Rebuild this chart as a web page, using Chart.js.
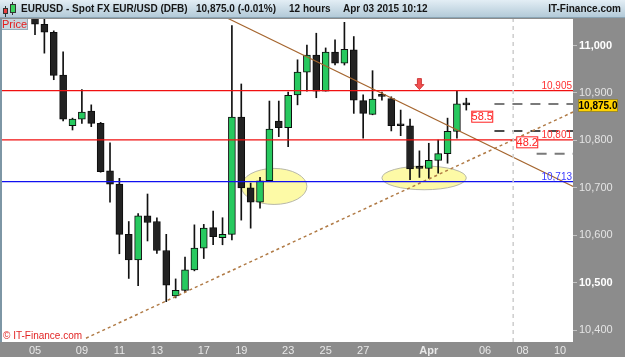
<!DOCTYPE html>
<html>
<head>
<meta charset="utf-8">
<script src="https://cdn.jsdelivr.net/npm/chart.js@4.4.1/dist/chart.umd.min.js"></script>
<style>
  body { margin: 0; background: #8c8c8c; }
  #wrap { position: relative; width: 625px; height: 357px; overflow: hidden; font-family: "Liberation Sans", Arial, sans-serif; }
  #c { position: absolute; left: 0; top: 0; }
  #head { position: absolute; left: 0; top: 0; width: 625px; height: 18px; box-sizing: border-box;
          background: linear-gradient(#e3eef5, #b3cad8); border-bottom: 1px solid #8aa4b4;
          font-weight: bold; font-size: 10px; color: #151515; }
  #head span { position: absolute; top: 3px; line-height: 12px; white-space: nowrap; }
  .ic { position: absolute; box-sizing: border-box; border: 1px solid #333; }
  .wk { position: absolute; width: 1px; background: #333; }
  #price { position: absolute; left: 2px; top: 19px; width: 26px; height: 11px; background: #c8d6de;
           border-right: 1px solid #97adba; border-bottom: 1px solid #97adba; box-sizing: border-box;
           color: #e41c1c; font-size: 11px; line-height: 10px; text-align: center; }
  #mark { position: absolute; left: 3px; top: 330px; color: #e22626; font-size: 10px; line-height: 11px; white-space: nowrap; }
</style>
</head>
<body>
<div id="wrap">
  <canvas id="c" width="625" height="357"></canvas>
  <div id="head">
    <div class="wk" style="left:5px;top:6px;height:11px"></div>
    <div class="ic" style="left:3px;top:8px;width:5px;height:6px;background:#e84040"></div>
    <div class="wk" style="left:12px;top:2px;height:13px"></div>
    <div class="ic" style="left:10px;top:4px;width:6px;height:9px;background:#3bd35d"></div>
    <span style="left:21px">EURUSD - Spot FX EUR/USD (DFB)</span>
    <span style="left:196px">10,875.0 (-0.01%)</span>
    <span style="left:289px">12 hours</span>
    <span style="left:343px">Apr 03 2015 10:12</span>
    <span style="right:4px">IT-Finance.com</span>
  </div>
  <div id="price">Price</div>
  <div id="mark">© IT-Finance.com</div>
</div>
<script>
// 12 hour candles, index 0 = 05 March
const opens  = [11062, 11045, 11028, 10938, 10831, 10845, 10862, 10836, 10736, 10708,
                10602, 10548, 10641, 10629, 10568, 10472, 10484, 10527, 10573, 10616,
                10595, 10602, 10849, 10700, 10670, 10715, 10841, 10827, 10896, 10944,
                10980, 10904, 10986, 10963, 10991, 10884, 10855, 10894, 10888, 10833,
                10831, 10742, 10741, 10758, 10772, 10819, 10877];
const highs  = [11080, 11058, 11031, 10987, 10847, 10907, 10875, 10838, 10795, 10720,
                10629, 10646, 10687, 10637, 10602, 10508, 10554, 10622, 10623, 10651,
                10637, 11042, 10919, 10710, 10722, 10883, 10883, 10902, 10970, 11001,
                11026, 10995, 11012, 11049, 11019, 10896, 10947, 10902, 10892, 10864,
                10845, 10778, 10794, 10801, 10847, 10904, 10889];
const lows   = [11023, 10984, 10928, 10841, 10822, 10836, 10829, 10733, 10670, 10561,
                10509, 10494, 10588, 10562, 10460, 10468, 10481, 10525, 10551, 10580,
                10580, 10590, 10632, 10615, 10657, 10715, 10808, 10787, 10875, 10904,
                10890, 10904, 10959, 10959, 10857, 10805, 10854, 10885, 10820, 10810,
                10717, 10722, 10720, 10731, 10752, 10805, 10864];
const closes = [11045, 11028, 10937, 10845, 10845, 10860, 10836, 10734, 10708, 10602,
                10548, 10641, 10627, 10568, 10495, 10484, 10527, 10573, 10615, 10597,
                10602, 10849, 10700, 10670, 10715, 10824, 10827, 10895, 10944, 10980,
                10904, 10986, 10963, 10992, 10885, 10857, 10887, 10893, 10831, 10831,
                10740, 10741, 10758, 10772, 10819, 10877, 10875];

const dayTickPos    = [0, 5, 9, 13, 18, 22, 27, 31, 35, 42, 48, 52, 56];
const dayTickLabels = ['05', '09', '11', '13', '17', '19', '23', '25', '27', 'Apr', '06', '08', '10'];
const priceTicks    = [10400, 10500, 10600, 10700, 10800, 10900, 11000];

const levelPrices = [10905, 10801, 10713];
const levelTexts  = ['10,905', '10,801', '10,713'];
const targetPrices = [10877, 10820, 10772];
const targetStarts = [49, 49, 53.5];
const trendDown = [[20.6, 11057], [57.4, 10703]];
const trendUp   = [[5.44, 10383], [57.4, 10860]];
const nowIndex = 51;
const zoneCenters = [[25.5, 10703], [41.5, 10721]];
const zoneRadii   = [[3.5, 38], [4.5, 25]];
const boxPoints = [[47.7, 10850], [52.5, 10796]];
const boxTexts  = ['58.5', '48.2'];
const arrowPoint = [41, 10905];
const lastPrice = 10875;
const lastText = '10,875.0';

const xMin = -3.52, xMax = 57.38;
const yMin = 10375, yMax = 11056;
const FONT = '"Liberation Sans", Arial, sans-serif';

function fmt(v) {
  const s = String(Math.round(v));
  return s.slice(0, s.length - 3) + ',' + s.slice(-3);
}

const wickData = highs.map((h, i) => ({ x: i, y: [lows[i], h] }));
const bodyData = opens.map((o, i) => ({ x: i, y: [o, closes[i]] }));
const bodyColors = opens.map((o, i) => closes[i] > o ? '#27c95f' : '#222222');

function seg(a, b) { return [{ x: a[0], y: a[1] }, { x: b[0], y: b[1] }]; }
function lineSet(data, color, width, dash) {
  return { type: 'line', data: data, borderColor: color, borderWidth: width, borderDash: dash || [],
           pointRadius: 0, fill: false, tension: 0, order: 0 };
}

const datasets = [
  { type: 'bar', data: wickData, backgroundColor: '#111', barThickness: 1, grouped: false, order: 2 },
  { type: 'bar', data: bodyData, backgroundColor: bodyColors, borderColor: '#0c0c0c', borderWidth: 1,
    borderSkipped: false, barThickness: 7, grouped: false, minBarLength: 2, order: 1 },
  lineSet(seg([nowIndex, yMin], [nowIndex, yMax]), '#cdcdcd', 1.5, [4, 4]),
  lineSet(seg([xMin, levelPrices[0]], [xMax, levelPrices[0]]), '#f01010', 1.2),
  lineSet(seg([xMin, levelPrices[1]], [xMax, levelPrices[1]]), '#f01010', 1.2),
  lineSet(seg([xMin, levelPrices[2]], [xMax, levelPrices[2]]), '#1010f0', 1.2),
  lineSet(seg(trendDown[0], trendDown[1]), '#a5652e', 1.2),
  lineSet(seg(trendUp[0], trendUp[1]), '#b07a45', 1.5, [3, 3]),
  lineSet(seg([targetStarts[0], targetPrices[0]], [xMax, targetPrices[0]]), '#7a7a7a', 2, [10, 8]),
  lineSet(seg([targetStarts[1], targetPrices[1]], [xMax, targetPrices[1]]), '#111111', 1.5, [10, 8]),
  lineSet(seg([targetStarts[2], targetPrices[2]], [xMax, targetPrices[2]]), '#7a7a7a', 2, [10, 8])
];

const deco = {
  id: 'deco',
  beforeDraw(chart) {
    const { ctx, chartArea: a } = chart;
    ctx.save();
    ctx.fillStyle = '#8c8c8c';
    ctx.fillRect(0, 0, chart.width, chart.height);
    ctx.fillStyle = '#ffffff';
    ctx.fillRect(a.left, a.top, a.right - a.left, a.bottom - a.top);
    ctx.fillStyle = '#7d96a5';
    ctx.fillRect(0, a.top, a.left, a.bottom - a.top);
    ctx.restore();
  },
  beforeDatasetsDraw(chart) {
    const { ctx, scales: { x, y } } = chart;
    ctx.save();
    zoneCenters.forEach((c, i) => {
      const cx = x.getPixelForValue(c[0]);
      const cy = y.getPixelForValue(c[1]);
      const rx = Math.abs(x.getPixelForValue(c[0] + zoneRadii[i][0]) - cx);
      const ry = Math.abs(y.getPixelForValue(c[1] + zoneRadii[i][1]) - cy);
      ctx.beginPath();
      ctx.ellipse(cx, cy, rx, ry, 0, 0, Math.PI * 2);
      ctx.fillStyle = '#fdfaa6';
      ctx.fill();
      ctx.strokeStyle = '#b8b8a8';
      ctx.lineWidth = 1;
      ctx.stroke();
    });
    ctx.restore();
  },
  afterDatasetsDraw(chart) {
    const { ctx, chartArea: a, scales: { x, y } } = chart;
    ctx.save();
    // level labels
    ctx.font = '10px ' + FONT;
    ctx.textAlign = 'right';
    ctx.textBaseline = 'alphabetic';
    levelPrices.forEach((p, i) => {
      ctx.fillStyle = i === 2 ? '#3a3aff' : '#ff3030';
      ctx.fillText(levelTexts[i], a.right - 1, y.getPixelForValue(p) - 2);
    });
    // boxed numbers
    ctx.font = '11px ' + FONT;
    ctx.textAlign = 'center';
    ctx.textBaseline = 'middle';
    boxPoints.forEach((b, i) => {
      const bx = x.getPixelForValue(b[0]);
      const by = y.getPixelForValue(b[1]);
      ctx.fillStyle = '#ffffff';
      ctx.fillRect(bx - 11, by - 6, 22, 12);
      ctx.strokeStyle = '#ff2020';
      ctx.lineWidth = 1;
      ctx.strokeRect(bx - 10.5, by - 5.5, 21, 11);
      ctx.fillStyle = '#ff2020';
      ctx.fillText(boxTexts[i], bx, by + 0.5);
    });
    // red arrow pointing down on the 10,905 line
    const ax = x.getPixelForValue(arrowPoint[0]);
    const ay = y.getPixelForValue(arrowPoint[1]) - 1;
    ctx.beginPath();
    ctx.moveTo(ax - 2, ay - 11);
    ctx.lineTo(ax + 2, ay - 11);
    ctx.lineTo(ax + 2, ay - 5);
    ctx.lineTo(ax + 4.5, ay - 5);
    ctx.lineTo(ax, ay);
    ctx.lineTo(ax - 4.5, ay - 5);
    ctx.lineTo(ax - 2, ay - 5);
    ctx.closePath();
    ctx.fillStyle = '#f25050';
    ctx.fill();
    ctx.strokeStyle = '#c42222';
    ctx.lineWidth = 0.8;
    ctx.stroke();
    ctx.restore();
  },
  afterDraw(chart) {
    const { ctx, chartArea: a, scales: { y } } = chart;
    const py = Math.round(y.getPixelForValue(lastPrice));
    ctx.save();
    ctx.fillStyle = '#ffd200';
    ctx.fillRect(a.right + 5, py - 6, 40, 13);
    ctx.strokeStyle = '#9c8a2a';
    ctx.lineWidth = 1;
    ctx.strokeRect(a.right + 5.5, py - 5.5, 39, 12);
    ctx.fillStyle = '#000';
    ctx.font = 'bold 10px ' + FONT;
    ctx.textAlign = 'center';
    ctx.textBaseline = 'middle';
    ctx.fillText(lastText, a.right + 25, py + 1);
    ctx.restore();
  }
};

const chart = new Chart(document.getElementById('c'), {
  type: 'bar',
  data: { datasets: datasets },
  plugins: [deco],
  options: {
    responsive: false,
    animation: false,
    layout: { padding: { left: 2, top: 19, right: 0, bottom: 0 } },
    plugins: { legend: { display: false }, tooltip: { enabled: false } },
    scales: {
      x: {
        type: 'linear', min: xMin, max: xMax, offset: false,
        grid: { display: false, drawTicks: false }, border: { display: false },
        afterBuildTicks: s => { s.ticks = dayTickPos.map(v => ({ value: v })); },
        afterFit: s => { s.height = 15; },
        ticks: {
          autoSkip: false, maxRotation: 0, padding: 2, color: '#e8e8e8',
          font: c => ({ family: FONT, size: 11, weight: dayTickLabels[c.index] === 'Apr' ? 'bold' : 'normal' }),
          callback: (v, i) => dayTickLabels[i]
        }
      },
      y: {
        position: 'right', min: yMin, max: yMax,
        grid: { drawOnChartArea: false, drawTicks: true, tickLength: 4, color: '#c4c4c4' },
        border: { display: false },
        afterBuildTicks: s => { s.ticks = priceTicks.map(v => ({ value: v })); },
        afterFit: s => { s.width = 52; },
        ticks: {
          padding: 2,
          color: c => c.tick && c.tick.value % 500 === 0 ? '#ffffff' : '#e4e4e4',
          font: c => ({ family: FONT, size: 11, weight: c.tick && c.tick.value % 500 === 0 ? 'bold' : 'normal' }),
          callback: v => fmt(v)
        }
      }
    }
  }
});
</script>
</body>
</html>
